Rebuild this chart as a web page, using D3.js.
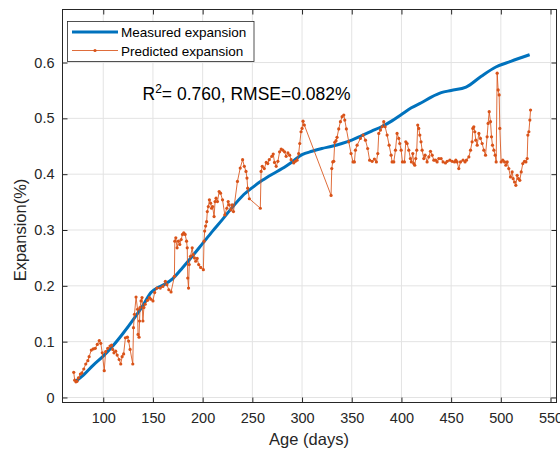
<!DOCTYPE html>
<html>
<head>
<meta charset="utf-8">
<script src="https://cdn.jsdelivr.net/npm/d3@7"></script>
<style>
  html, body { margin: 0; padding: 0; background: #fff; }
  svg { display: block; font-family: "Liberation Sans", Arial, Helvetica, sans-serif; }
</style>
</head>
<body>
<svg id="chart" width="560" height="453"></svg>
<script>
// Measured expansion curve (age in days, expansion in %)
const measuredDays = [73, 80, 90, 100, 110, 120, 130, 140, 148, 155, 162, 170, 180, 190, 200, 210, 220, 230, 240, 250, 260, 270, 280, 290, 300, 310, 320, 330, 340, 350, 360, 370, 380, 390, 400, 410, 420, 430, 440, 450, 465, 480, 495, 510, 529];
const measuredValues = [0.030, 0.040, 0.058, 0.074, 0.093, 0.115, 0.139, 0.165, 0.188, 0.197, 0.203, 0.213, 0.233, 0.254, 0.276, 0.298, 0.319, 0.341, 0.361, 0.376, 0.389, 0.400, 0.410, 0.422, 0.435, 0.441, 0.446, 0.450, 0.455, 0.461, 0.469, 0.477, 0.485, 0.495, 0.507, 0.519, 0.528, 0.538, 0.546, 0.550, 0.556, 0.575, 0.592, 0.602, 0.614];

// Model-predicted expansion
const predictedDays = [70.3, 71.3, 72.5, 73.6, 75, 77, 78.5, 80.4, 82.4, 84.5, 85.8, 88, 90, 92, 94, 96, 97.5, 99, 101, 102.4, 104.5, 106.8, 108.4, 109.5, 110.8, 112.5, 114, 116, 117.6, 119, 120.5, 122.3, 124.3, 125.5, 127, 129.7, 130.4, 131.4, 133, 134.5, 135, 136, 136.5, 137, 138, 139, 139.9, 140.9, 142.2, 144.6, 146.6, 148, 150, 151.7, 154, 157.4, 160, 162.5, 164, 166, 168.2, 171.6, 172, 173, 174.3, 175.6, 177, 178.4, 179.7, 181, 182.4, 183.8, 184.5, 185, 185.8, 186.5, 187.8, 189.5, 190.5, 191.8, 193, 194.5, 196, 198, 200.7, 201.4, 202, 203, 204, 204.7, 205.7, 206.8, 208, 209, 210, 211.5, 212.5, 213.5, 214.9, 216.6, 218, 220, 222.3, 224.3, 225.7, 226.7, 228.4, 229.7, 231, 235, 237.8, 240.2, 241.9, 243.6, 244.6, 245.3, 247, 258, 258.8, 260, 262, 264, 265.5, 267, 269.6, 271, 272.3, 274, 275.7, 277.4, 279, 280.7, 282.4, 284, 285.8, 287.5, 289, 291.6, 293.3, 295, 296.6, 297.7, 299, 300, 301, 302.3, 329.2, 329.9, 330.9, 331.9, 332.9, 334.2, 335.2, 336.9, 338.6, 340.3, 342, 343, 344.6, 347, 349.3, 351.3, 352.7, 353.7, 355.4, 358.7, 361.4, 363.8, 366, 368, 370.5, 372.8, 374.8, 376.2, 377.2, 378.9, 380.5, 382.2, 383.6, 385.6, 387.6, 389.6, 390.6, 392.3, 394, 395.6, 397.3, 398.3, 399.7, 401, 403, 404.4, 405.7, 407.4, 409, 410, 411.4, 412.4, 413.4, 414.4, 415.4, 416.4, 417.4, 418.5, 419.7, 420.8, 422.5, 423.8, 425.8, 427.5, 429.2, 430.9, 432.6, 434.3, 435.9, 437.6, 439.9, 441.9, 444.3, 446, 448.7, 451, 453.4, 454.7, 456, 457.7, 459.4, 462, 464, 465.4, 467.8, 469.5, 471.1, 471.8, 472.8, 473.8, 474.8, 476.2, 477.9, 479.5, 481.2, 482.9, 484.6, 486.2, 487.2, 488.3, 489.6, 490.6, 491.6, 493, 494.3, 495.3, 496.3, 497.3, 498.3, 499, 500.3, 502, 503.7, 505, 506.4, 508, 509.7, 511.4, 512.4, 513.8, 515.1, 516.4, 517.8, 519.1, 520.5, 522.1, 523.8, 525.2, 526.5, 527.2, 528.2, 529.2, 529.9];
const predictedValues = [0.045, 0.031, 0.028, 0.029, 0.035, 0.042, 0.044, 0.051, 0.060, 0.066, 0.073, 0.085, 0.087, 0.088, 0.095, 0.102, 0.097, 0.080, 0.048, 0.082, 0.088, 0.092, 0.094, 0.086, 0.080, 0.083, 0.076, 0.068, 0.060, 0.073, 0.078, 0.107, 0.108, 0.101, 0.086, 0.060, 0.125, 0.149, 0.180, 0.158, 0.113, 0.108, 0.137, 0.161, 0.173, 0.179, 0.137, 0.161, 0.167, 0.174, 0.179, 0.176, 0.173, 0.188, 0.196, 0.196, 0.199, 0.208, 0.202, 0.193, 0.189, 0.217, 0.280, 0.286, 0.268, 0.280, 0.274, 0.283, 0.292, 0.295, 0.292, 0.280, 0.268, 0.214, 0.196, 0.238, 0.253, 0.268, 0.256, 0.250, 0.244, 0.249, 0.238, 0.233, 0.229, 0.280, 0.298, 0.307, 0.315, 0.333, 0.342, 0.354, 0.348, 0.339, 0.342, 0.324, 0.351, 0.357, 0.351, 0.369, 0.366, 0.354, 0.327, 0.339, 0.351, 0.345, 0.336, 0.345, 0.333, 0.387, 0.411, 0.426, 0.414, 0.405, 0.393, 0.375, 0.356, 0.339, 0.405, 0.414, 0.410, 0.421, 0.419, 0.426, 0.432, 0.436, 0.421, 0.414, 0.423, 0.440, 0.445, 0.443, 0.440, 0.432, 0.438, 0.434, 0.426, 0.420, 0.423, 0.425, 0.437, 0.455, 0.476, 0.482, 0.495, 0.488, 0.362, 0.410, 0.422, 0.423, 0.457, 0.460, 0.466, 0.481, 0.494, 0.503, 0.506, 0.497, 0.481, 0.458, 0.437, 0.422, 0.422, 0.443, 0.452, 0.464, 0.470, 0.461, 0.446, 0.425, 0.423, 0.427, 0.422, 0.437, 0.473, 0.479, 0.485, 0.494, 0.485, 0.470, 0.452, 0.434, 0.422, 0.422, 0.443, 0.473, 0.464, 0.455, 0.443, 0.422, 0.422, 0.458, 0.455, 0.443, 0.428, 0.422, 0.437, 0.419, 0.416, 0.428, 0.443, 0.488, 0.482, 0.470, 0.458, 0.443, 0.428, 0.434, 0.422, 0.431, 0.441, 0.434, 0.425, 0.425, 0.422, 0.428, 0.428, 0.422, 0.420, 0.423, 0.425, 0.423, 0.422, 0.425, 0.422, 0.410, 0.422, 0.425, 0.422, 0.425, 0.431, 0.443, 0.458, 0.482, 0.485, 0.476, 0.461, 0.452, 0.473, 0.464, 0.455, 0.443, 0.434, 0.467, 0.491, 0.512, 0.494, 0.467, 0.452, 0.443, 0.434, 0.422, 0.581, 0.551, 0.542, 0.482, 0.422, 0.425, 0.422, 0.416, 0.422, 0.410, 0.395, 0.404, 0.392, 0.386, 0.380, 0.398, 0.392, 0.389, 0.404, 0.419, 0.423, 0.422, 0.428, 0.470, 0.476, 0.497, 0.515];

const xTicks = [100, 150, 200, 250, 300, 350, 400, 450, 500, 550];
const yTicks = [0, 0.1, 0.2, 0.3, 0.4, 0.5, 0.6];
const legendLabels = ["Measured expansion", "Predicted expansion"];
const r2Text = "0.760";
const rmseText = "0.082%";

const measuredColor = "#0072BD";
const predictedColor = "#D95319";
const axisColor = "#262626";
const gridColor = "#e3e3e3";

const svg = d3.select("#chart");
const plot = { left: 62.5, right: 556.5, top: 9.5, bottom: 402.5 };

const x = d3.scaleLinear().domain([59, 556]).range([plot.left, plot.right]);
const y = d3.scaleLinear().domain([-0.009, 0.695]).range([plot.bottom, plot.top]);

// grid
const grid = svg.append("g");
grid.selectAll("line.gx").data(xTicks).join("line")
  .attr("x1", d => x(d)).attr("x2", d => x(d))
  .attr("y1", plot.top).attr("y2", plot.bottom)
  .attr("stroke", gridColor).attr("stroke-width", 1);
grid.selectAll("line.gy").data(yTicks).join("line")
  .attr("x1", plot.left).attr("x2", plot.right)
  .attr("y1", d => y(d)).attr("y2", d => y(d))
  .attr("stroke", gridColor).attr("stroke-width", 1);

// series
const measured = measuredDays.map((d, i) => [d, measuredValues[i]]);
const predicted = predictedDays.map((d, i) => [d, predictedValues[i]]);
const line = d3.line().x(d => x(d[0])).y(d => y(d[1]));

svg.append("path").datum(measured)
  .attr("d", line.curve(d3.curveMonotoneX))
  .attr("fill", "none").attr("stroke", measuredColor)
  .attr("stroke-width", 3).attr("stroke-linejoin", "round");

svg.append("path").datum(predicted)
  .attr("d", d3.line().x(d => x(d[0])).y(d => y(d[1])))
  .attr("fill", "none").attr("stroke", predictedColor)
  .attr("stroke-opacity", 0.85).attr("stroke-width", 1);

svg.append("g").selectAll("circle").data(predicted).join("circle")
  .attr("cx", d => x(d[0])).attr("cy", d => y(d[1]))
  .attr("r", 1.6).attr("fill", predictedColor);

// axes (box with inward ticks on all sides)
const tickLen = 5;
const axX = d3.axisBottom(x).tickValues(xTicks).tickSizeInner(-tickLen).tickSizeOuter(0).tickPadding(10);
const axY = d3.axisLeft(y).tickValues(yTicks).tickFormat(d3.format("~g")).tickSizeInner(-tickLen).tickSizeOuter(0).tickPadding(8);
const axXTop = d3.axisTop(x).tickValues(xTicks).tickSizeInner(-tickLen).tickSizeOuter(0).tickFormat("");
const axYRight = d3.axisRight(y).tickValues(yTicks).tickSizeInner(-tickLen).tickSizeOuter(0).tickFormat("");

function styleAxis(g) {
  g.select(".domain").remove();
  g.selectAll(".tick line").attr("stroke", axisColor);
  g.selectAll(".tick text").attr("fill", axisColor)
    .style("font-size", "14.5px").style("font-family", "'Liberation Sans', Arial, sans-serif");
}
svg.append("g").attr("transform", `translate(0,${plot.bottom})`).call(axX).call(styleAxis);
svg.append("g").attr("transform", `translate(${plot.left},0)`).call(axY).call(styleAxis);
svg.append("g").attr("transform", `translate(0,${plot.top})`).call(axXTop).call(styleAxis);
svg.append("g").attr("transform", `translate(${plot.right},0)`).call(axYRight).call(styleAxis);

svg.append("rect")
  .attr("x", plot.left).attr("y", plot.top)
  .attr("width", plot.right - plot.left).attr("height", plot.bottom - plot.top)
  .attr("fill", "none").attr("stroke", axisColor).attr("stroke-width", 1);

// axis labels
svg.append("text").attr("x", x(307)).attr("y", 445)
  .attr("text-anchor", "middle").attr("fill", axisColor)
  .style("font-size", "16.5px").text("Age (days)");
svg.append("text")
  .attr("transform", `translate(26,${y(0.3)}) rotate(-90)`)
  .attr("text-anchor", "middle").attr("fill", axisColor)
  .style("font-size", "16.5px").text("Expansion(%)");

// fit statistics
const stat = svg.append("text").attr("x", 142.5).attr("y", 99.5)
  .attr("fill", "#000").style("font-size", "17.5px");
stat.append("tspan").text("R");
stat.append("tspan").attr("dy", -7).style("font-size", "12px").text("2");
stat.append("tspan").attr("dy", 7).text(`= ${r2Text}, RMSE=${rmseText}`);

// legend
const lg = svg.append("g");
lg.append("rect").attr("x", 67.5).attr("y", 21.5).attr("width", 186.5).attr("height", 40)
  .attr("fill", "#fff").attr("stroke", axisColor).attr("stroke-width", 0.8);
lg.append("line").attr("x1", 72).attr("x2", 118).attr("y1", 32).attr("y2", 32)
  .attr("stroke", measuredColor).attr("stroke-width", 3);
lg.append("line").attr("x1", 72).attr("x2", 118).attr("y1", 50.5).attr("y2", 50.5)
  .attr("stroke", predictedColor).attr("stroke-opacity", 0.85).attr("stroke-width", 1);
lg.append("circle").attr("cx", 95).attr("cy", 50.5).attr("r", 1.6).attr("fill", predictedColor);
lg.selectAll("text").data(legendLabels).join("text")
  .attr("x", 121).attr("y", (d, i) => 37 + i * 18.5)
  .attr("fill", "#000").style("font-size", "13.5px").text(d => d);
</script>
</body>
</html>
